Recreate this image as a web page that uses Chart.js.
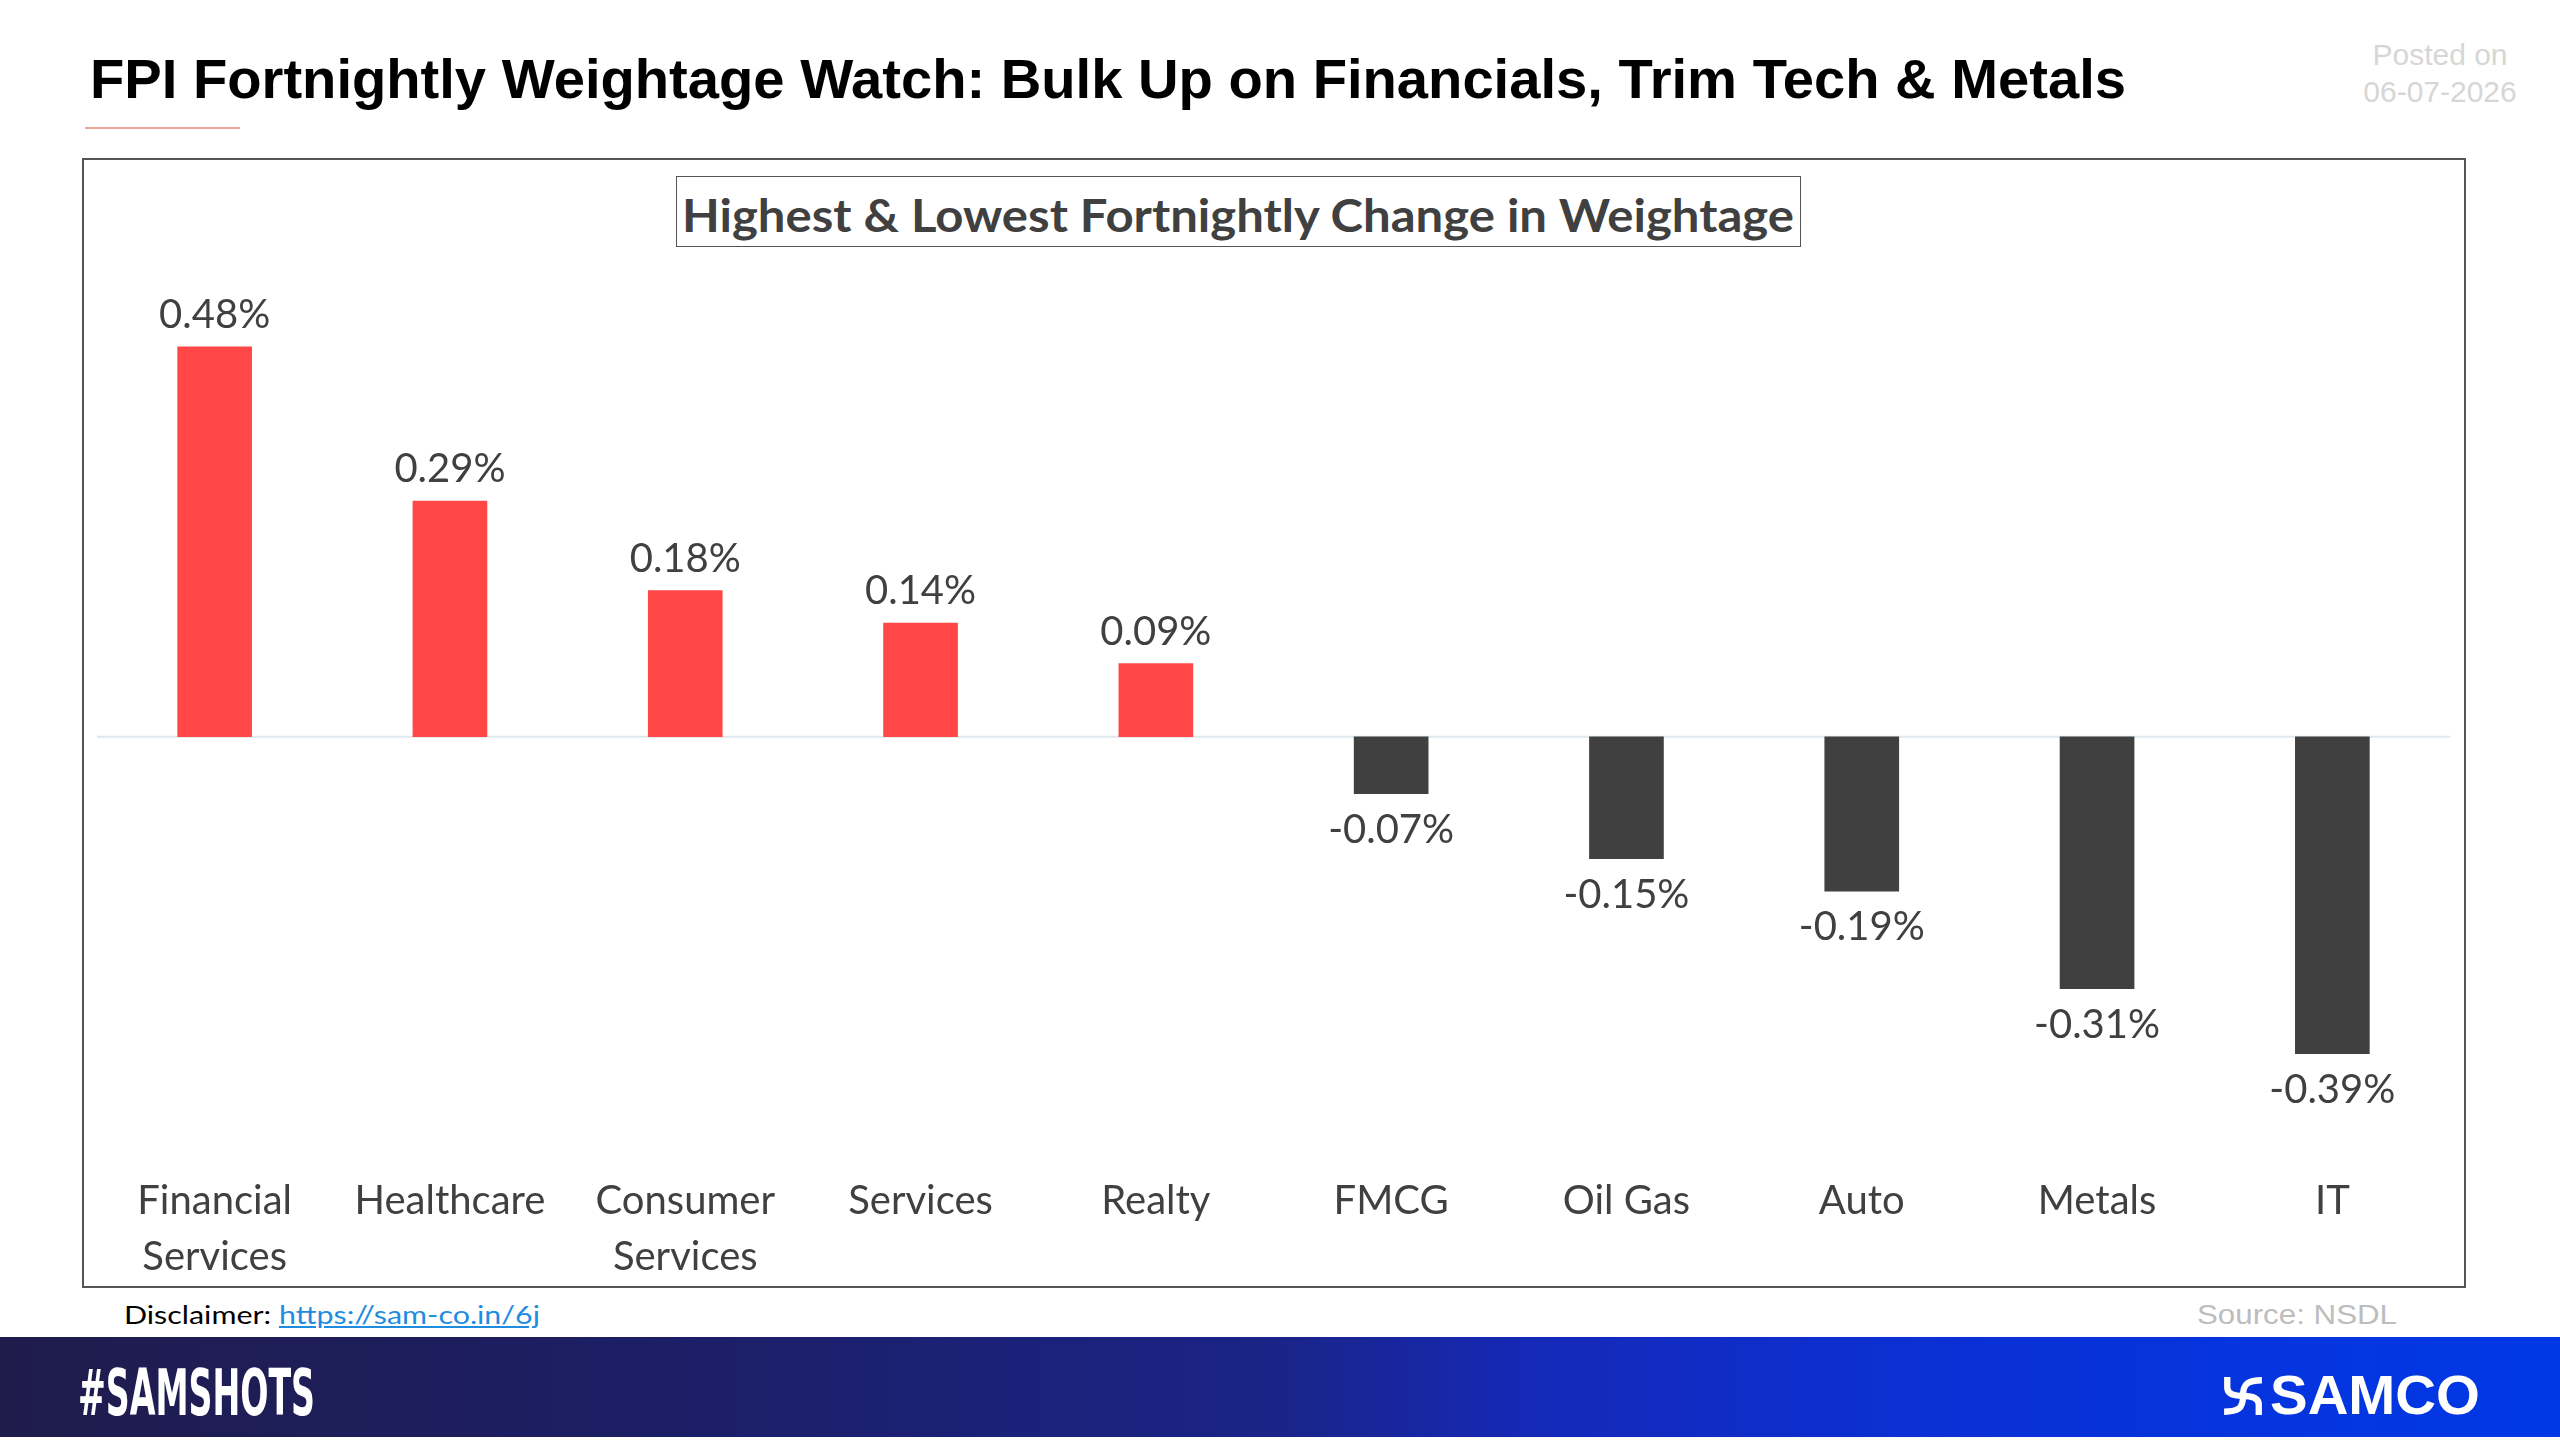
<!DOCTYPE html>
<html>
<head>
<meta charset="utf-8">
<script src="https://cdn.jsdelivr.net/npm/chart.js@4.4.1/dist/chart.umd.min.js"></script>
<style>
  html, body { margin: 0; padding: 0; background: #fff; }
  body { width: 2560px; height: 1440px; position: relative; overflow: hidden; font-family: 'Liberation Sans', Arial, sans-serif; }
  .abs { position: absolute; white-space: nowrap; }
  #title { left: 90px; top: 51px; font-size: 56px; line-height: 56px; font-weight: bold; color: #000; transform-origin: 0 0; }
  #rule { left: 85px; top: 127px; width: 155px; height: 2px; background: #eaa697; }
  #posted { left: 2340px; width: 200px; top: 36px; font-size: 30px; line-height: 37px; color: #d6d6d6; text-align: center; }
  #box { left: 82px; top: 158px; width: 2384px; height: 1130px; border: 2px solid #555; box-sizing: border-box; }
  #chartTitle { left: 676px; top: 176px; width: 1125px; height: 71px; border: 1.5px solid #555; box-sizing: border-box; background: #fff; }
  #chartTitle span { position: absolute; left: 0; width: 100%; top: 15px; text-align: center; font-family: Lato, sans-serif; font-weight: bold; font-size: 46px; line-height: 46px; color: #404040; }
  #c { position: absolute; left: 82px; top: 158px; }
  #disclaimer { left: 124px; top: 1302px; font-family: Lato, sans-serif; font-size: 25px; line-height: 25px; color: #000; transform-origin: 0 0; }
  #disclaimer a { color: #1f8ce0; text-decoration: underline; }
  #source { left: 2197px; top: 1301px; font-size: 28px; line-height: 28px; color: #bdbdbd; transform-origin: 0 0; }
  #band { left: 0; top: 1337px; width: 2560px; height: 100px;
    background: linear-gradient(90deg, #1f1c4c 0%, #1c1f6a 30%, #1a2488 50%, #1529b8 60%, #0b30d4 75%, #0038e6 100%); }
  #tag { left: 78px; top: 1361px; font-family: 'Liberation Sans Narrow', 'DejaVu Sans Condensed', 'Liberation Sans', sans-serif; font-weight: bold; font-size: 64px; line-height: 64px; color: #fff; transform-origin: 0 0; }
  #samco { left: 2270px; top: 1368px; font-weight: bold; font-size: 55px; line-height: 55px; color: #fff; transform-origin: 0 0; }
  #mark { left: 2222px; top: 1375px; }
</style>
</head>
<body>
<div id="title" class="abs">FPI Fortnightly Weightage Watch: Bulk Up on Financials, Trim Tech &amp; Metals</div>
<div id="rule" class="abs"></div>
<div id="posted" class="abs">Posted on<br>06-07-2026</div>
<div id="box" class="abs"></div>
<canvas id="c" width="2384" height="1130"></canvas>
<div id="chartTitle" class="abs"><span>Highest &amp; Lowest Fortnightly Change in Weightage</span></div>
<div id="disclaimer" class="abs">Disclaimer: <a href="#">https://sam-co.in/6j</a></div>
<div id="source" class="abs">Source: NSDL</div>
<div id="band" class="abs"></div>
<div id="tag" class="abs">#SAMSHOTS</div>
<svg id="mark" class="abs" width="42" height="42" viewBox="0 0 40 40">
  <g fill="none" stroke="#fff" stroke-width="6" stroke-linecap="butt">
    <path d="M5 2 L5 12 Q5 20 20 20"/>
    <path d="M38 5 Q28 5 24 8 Q20 11 20 20"/>
    <path d="M35 38 L35 28 Q35 20 20 20"/>
    <path d="M2 35 Q12 35 16 32 Q20 29 20 20"/>
  </g>
</svg>
<div id="samco" class="abs">SAMCO</div>

<script>
const categories = [['Financial', 'Services'], 'Healthcare', ['Consumer', 'Services'], 'Services', 'Realty', 'FMCG', 'Oil Gas', 'Auto', 'Metals', 'IT'];
const weightChange = [0.48, 0.29, 0.18, 0.14, 0.09, -0.07, -0.15, -0.19, -0.31, -0.39];
const labelText = weightChange.map(v => v.toFixed(2) + '%');

const POS = '#ff4747';
const NEG = '#404040';
const TEXT = '#404040';

// stretch a text box to the width it has in the picture
function fitWidth(id, target) {
  const el = document.getElementById(id);
  const w = el.getBoundingClientRect().width;
  el.style.transform = 'scaleX(' + (target / w) + ')';
}

// light line at zero, under the bars
const zeroLine = {
  id: 'zeroLine',
  beforeDatasetsDraw(chart) {
    const ctx = chart.ctx;
    const y = chart.scales.y.getPixelForValue(0);
    ctx.save();
    ctx.strokeStyle = '#dfe8ee';
    ctx.lineWidth = 2;
    ctx.beginPath();
    ctx.moveTo(chart.chartArea.left, y);
    ctx.lineTo(chart.chartArea.right, y);
    ctx.stroke();
    ctx.restore();
  }
};

// value labels above / below each bar
const barLabels = {
  id: 'barLabels',
  afterDatasetsDraw(chart) {
    const ctx = chart.ctx;
    const meta = chart.getDatasetMeta(0);
    ctx.save();
    ctx.font = '40px Lato';
    ctx.fillStyle = TEXT;
    ctx.textAlign = 'center';
    ctx.textBaseline = 'alphabetic';
    meta.data.forEach((bar, i) => {
      const y = weightChange[i] >= 0 ? bar.y - 19 : bar.y + 49;
      ctx.fillText(labelText[i], bar.x, y);
    });
    ctx.restore();
  }
};

Promise.all([
  document.fonts.load('40px Lato'),
  document.fonts.load('bold 46px Lato'),
  document.fonts.load('bold 56px "Liberation Sans"')
]).catch(() => {}).then(() => {
  fitWidth('title', 2036);
  fitWidth('disclaimer', 416);
  fitWidth('source', 200);
  fitWidth('tag', 237);
  fitWidth('samco', 210);
  const t = document.querySelector('#chartTitle span');
  t.style.width = 'auto';
  const tw = t.getBoundingClientRect().width;
  t.style.transformOrigin = '0 0';
  t.style.left = ((1125 - 1112) / 2 - 1.5) + 'px';
  t.style.transform = 'scaleX(' + (1112 / tw) + ')';

  new Chart(document.getElementById('c'), {
    type: 'bar',
    data: {
      labels: categories,
      datasets: [{
        data: weightChange,
        backgroundColor: weightChange.map(v => v >= 0 ? POS : NEG),
        borderWidth: 0,
        barThickness: 74
      }]
    },
    options: {
      responsive: false,
      animation: false,
      devicePixelRatio: 1,
      layout: { padding: { left: 15, right: 16, top: 172.5, bottom: 0 } },
      plugins: { legend: { display: false }, tooltip: { enabled: false }, title: { display: false } },
      scales: {
        x: {
          grid: { display: false },
          border: { display: false },
          ticks: {
            color: TEXT,
            font: { family: 'Lato', size: 40, lineHeight: 1.4 },
            padding: 22,
            maxRotation: 0,
            autoSkip: false
          },
          afterFit(scale) { scale.height = 145; }
        },
        y: { display: false, min: -0.5, max: 0.5 }
      }
    },
    plugins: [zeroLine, barLabels]
  });
});
</script>
</body>
</html>
